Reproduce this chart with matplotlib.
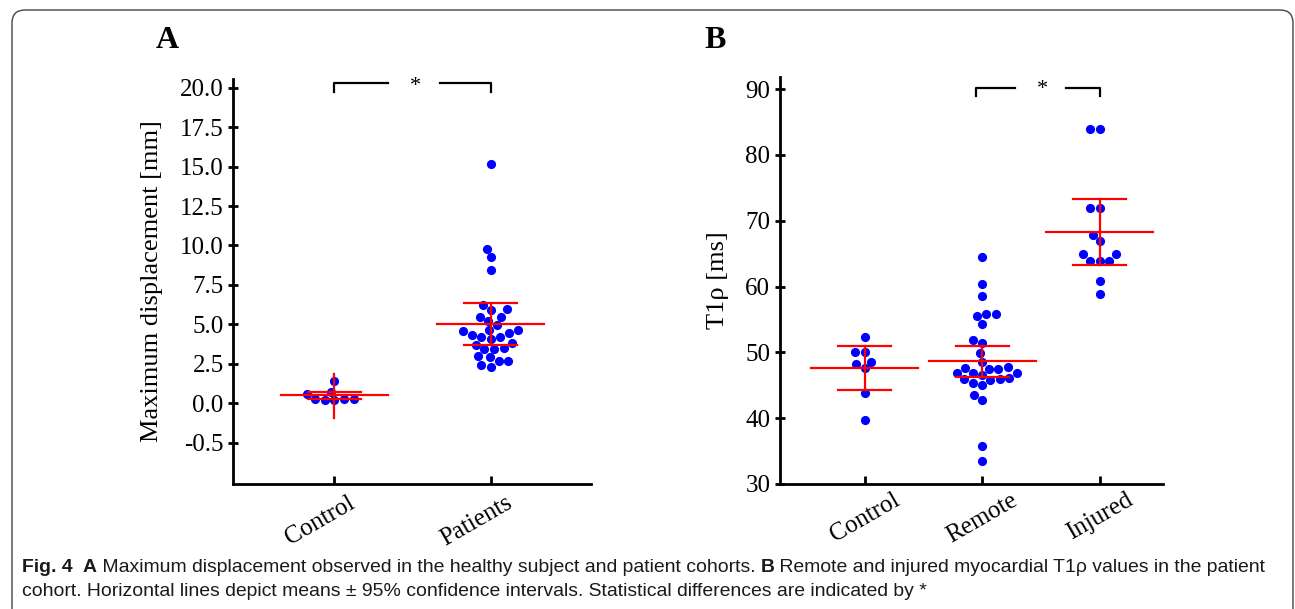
import numpy as np
import pandas as pd
import matplotlib
matplotlib.use("Agg")
import matplotlib.pyplot as plt
import matplotlib.transforms as mtransforms
from matplotlib.patches import FancyBboxPatch
import seaborn as sns

# panel A: maximum displacement [mm]
disp_groups = ["Control", "Patients"]
disp_control = [0.19, 0.25, 0.74, 1.39, 0.25, 0.25, 0.59, 0.19]
disp_patients = [15.17, 9.78, 9.25, 8.43, 6.21, 5.89, 5.96, 5.47, 5.49, 5.22,
                 4.96, 4.63, 4.63, 4.60, 4.47, 4.35, 4.22, 4.18, 4.06, 3.82,
                 3.71, 3.46, 3.46, 3.52, 2.93, 2.98, 2.66, 2.66, 2.43, 2.32]
disp_mean = [0.55, 5.04]
disp_ci_low = [0.29, 3.68]
disp_ci_high = [0.72, 6.37]
disp_bar_low = [-0.90, 3.68]
disp_bar_high = [1.84, 6.37]
disp_ticks = [-2.5, 0, 2.5, 5, 7.5, 10, 12.5, 15, 17.5, 20]
disp_ticklabels = ["-0.5", "0.0", "2.5", "5.0", "7.5", "10.0", "12.5", "15.0", "17.5", "20.0"]

# panel B: T1rho [ms]
t1_groups = ["Control", "Remote", "Injured"]
t1_control = [52.34, 50.02, 50.02, 48.59, 48.28, 47.58, 43.88, 39.73]
t1_remote = [64.45, 60.44, 58.62, 55.84, 55.84, 55.53, 54.36, 51.84, 51.38, 49.86,
             48.50, 47.52, 47.52, 47.63, 47.78, 46.82, 46.87, 46.87, 46.52, 46.06,
             45.85, 45.96, 45.96, 45.09, 45.40, 43.57, 42.72, 35.73, 33.45]
t1_injured = [83.91, 83.91, 71.90, 71.90, 67.84, 66.88, 64.91, 64.91, 63.89, 63.89,
              63.89, 60.90, 58.92]
t1_mean = [47.58, 48.65, 68.25]
t1_ci_low = [44.29, 46.26, 63.24]
t1_ci_high = [50.93, 51.02, 73.36]
t1_ticks = [30, 40, 50, 60, 70, 80, 90]

caption1 = [("Fig. 4", True), ("  A", True),
            (" Maximum displacement observed in the healthy subject and patient cohorts. ", False),
            ("B", True), (" Remote and injured myocardial T1\u03c1 values in the patient", False)]
caption2 = ("cohort. Horizontal lines depict means \u00b1 95% confidence intervals. "
            "Statistical differences are indicated by *")

serif = "Liberation Serif"
sans = "Liberation Sans"
fig = plt.figure(figsize=(12.95, 6.09), dpi=100)

# rounded frame
fig.patches.append(FancyBboxPatch((0.12, -0.3), 12.81, 6.29,
                                  boxstyle="round,pad=0,rounding_size=0.13",
                                  transform=fig.dpi_scale_trans, fill=False,
                                  edgecolor="#444444", linewidth=1.0))

axA = fig.add_axes([0.1802, 0.2053, 0.2762, 0.6650])
axB = fig.add_axes([0.6023, 0.2053, 0.2958, 0.6683])


def swarm(ax, groups, values):
    df = pd.DataFrame({"group": np.repeat(groups, [len(v) for v in values]),
                       "value": np.concatenate(values)})
    sns.swarmplot(data=df, x="group", y="value", order=groups, color="#0000ff",
                  size=6.6, linewidth=0, ax=ax)


def mean_ci(ax, means, lo, hi, bar_lo, bar_hi):
    px_per_unit = ax.bbox.width / (ax.get_xlim()[1] - ax.get_xlim()[0])
    half = 53.5 / px_per_unit
    cap = 26.5 / px_per_unit
    for i in range(len(means)):
        ax.plot([i - half, i + half], [means[i]] * 2, color="#ff0000", lw=1.6, zorder=5)
        ax.plot([i - cap, i + cap], [lo[i]] * 2, color="#ff0000", lw=1.6, zorder=5)
        ax.plot([i - cap, i + cap], [hi[i]] * 2, color="#ff0000", lw=1.6, zorder=5)
        ax.plot([i, i], [bar_lo[i], bar_hi[i]], color="#ff0000", lw=1.6, zorder=5)


def style(ax):
    for s in ["top", "right"]:
        ax.spines[s].set_visible(False)
    for s in ["left", "bottom"]:
        ax.spines[s].set_linewidth(2.0)
    ax.tick_params(axis="y", direction="inout", length=7, width=2, labelsize=18)
    ax.tick_params(axis="x", direction="in", length=6, width=2, labelsize=18)
    for lab in ax.get_yticklabels() + ax.get_xticklabels():
        lab.set_fontfamily(serif)
    ax.set_xlabel("")


def bracket(ax, x0, x1, y_top, y_bot, g0, g1, xs, ys):
    kw = dict(color="black", lw=1.6, clip_on=False)
    ax.plot([x0, x0, g0], [y_bot, y_top, y_top], **kw)
    ax.plot([g1, x1, x1], [y_top, y_top, y_bot], **kw)
    ax.text(xs, ys, "*", ha="center", va="center", fontsize=16, family=serif)


# panel A
swarm(axA, disp_groups, [disp_control, disp_patients])
axA.set_xlim(-0.646, 1.641)
axA.set_ylim(-5.11, 20.55)
axA.set_yticks(disp_ticks)
axA.set_yticklabels(disp_ticklabels)
axA.set_xticks([0, 1])
axA.set_xticklabels(disp_groups, rotation=30, ha="center")
style(axA)
shift = mtransforms.ScaledTranslation(-0.14, -0.03, fig.dpi_scale_trans)
for lab in axA.get_xticklabels():
    lab.set_transform(lab.get_transform() + shift)
axA.set_ylabel("Maximum displacement [mm]", fontsize=19, family=serif, labelpad=12)
mean_ci(axA, disp_mean, disp_ci_low, disp_ci_high, disp_bar_low, disp_bar_high)
bracket(axA, 0.0, 1.0, 20.28, 19.70, 0.343, 0.676, 0.52, 20.05)

# panel B
swarm(axB, t1_groups, [t1_control, t1_remote, t1_injured])
axB.set_xlim(-0.72, 2.54)
axB.set_ylim(30, 91.85)
axB.set_yticks(t1_ticks)
axB.set_xticks([0, 1, 2])
axB.set_xticklabels(t1_groups, rotation=30, ha="center")
style(axB)
axB.set_ylabel("T1\u03c1 [ms]", fontsize=19, family=serif, labelpad=12)
mean_ci(axB, t1_mean, t1_ci_low, t1_ci_high, t1_ci_low, t1_ci_high)
bracket(axB, 0.945, 2.0, 90.18, 88.97, 1.28, 1.71, 1.51, 89.9)

fig.text(167 / 1295, 1 - 40 / 609, "A", fontsize=23, fontweight="bold", family=serif,
         ha="center", va="center")
fig.text(715 / 1295, 1 - 40 / 609, "B", fontsize=23, fontweight="bold", family=serif,
         ha="center", va="center")


# caption: pieces laid out one after another, sized so line 1 spans the reference width
def caption_line(parts, size, y_px):
    x = 22.0
    texts = []
    for txt, bold in parts:
        t = fig.text(x / 1295, 1 - y_px / 609, txt, fontsize=size, family=sans,
                     fontweight="bold" if bold else "normal", va="baseline",
                     ha="left", color="#1a1a1a")
        fig.canvas.draw()
        x = t.get_window_extent().x1
        texts.append(t)
    return texts, x


texts, end = caption_line(caption1, 13, 572)
size = 13 * (1262 - 22) / (end - 22)
for t in texts:
    t.remove()
caption_line(caption1, size, 572)
fig.text(22 / 1295, 1 - 596 / 609, caption2, fontsize=size, family=sans,
         va="baseline", ha="left", color="#1a1a1a")

fig.savefig("out.png", dpi=100)
